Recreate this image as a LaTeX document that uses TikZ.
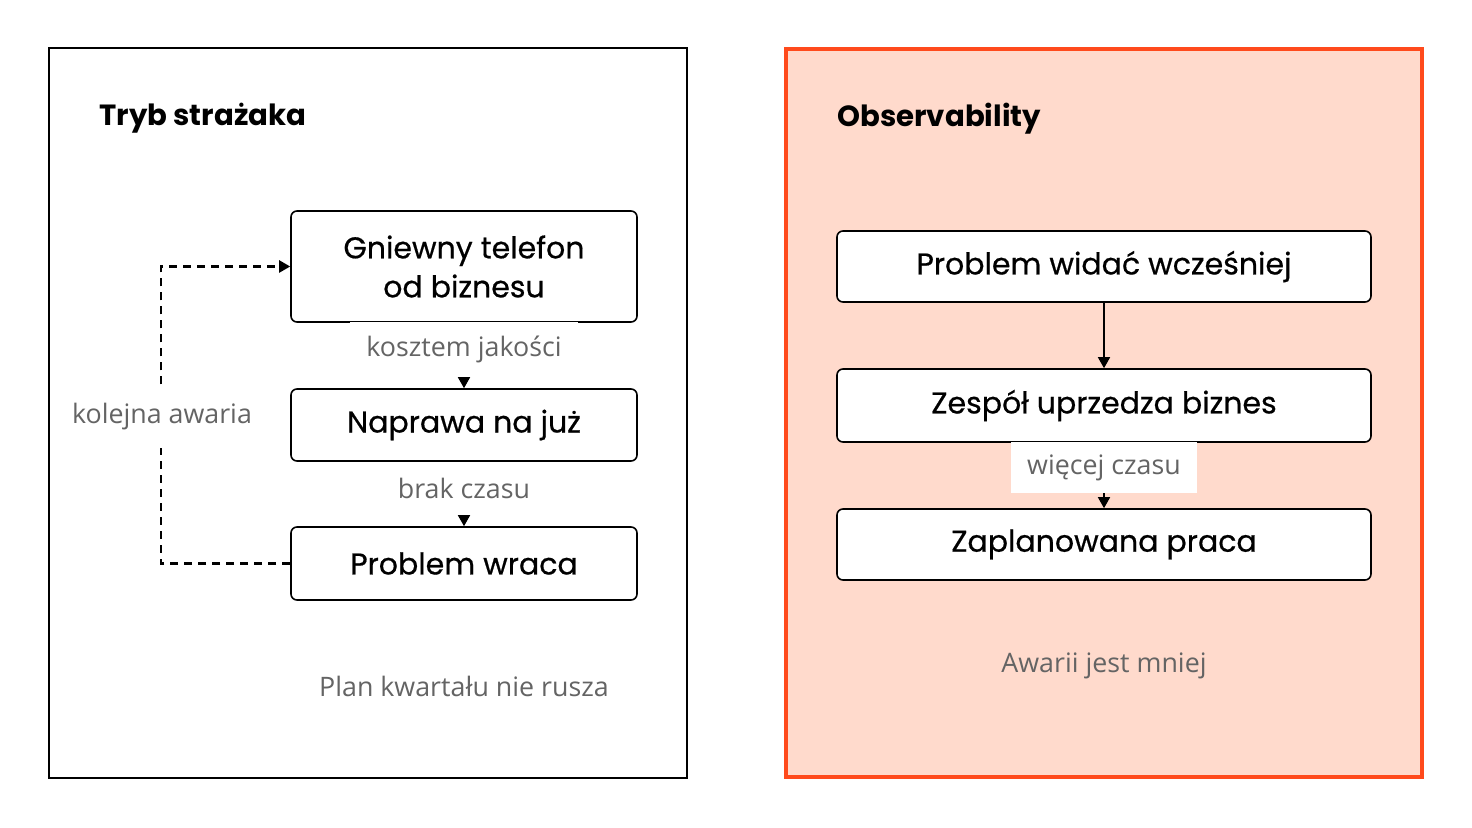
\documentclass[tikz,border=0pt]{standalone}
\usepackage{fontspec}
\setmainfont{Poppins}
\newfontfamily\medfont{Poppins}[FakeBold=0.6]
\newfontfamily\lblfont{Open Sans}
\usetikzlibrary{arrows.meta,calc}
\definecolor{gtxt}{RGB}{100,100,100}
\definecolor{peach}{RGB}{255,218,204}
\definecolor{orng}{RGB}{255,74,28}
\begin{document}
\begin{tikzpicture}[x=0.5pt,y=-0.5pt,
 box/.style={draw=black,line width=0.8pt,rounded corners=3pt,fill=white,minimum width=173pt,inner sep=0pt,font=\medfont\fontsize{15}{19.5}\selectfont,align=center},
 lbl/.style={fill=white,text=gtxt,font=\lblfont\fontsize{13.4}{16}\selectfont,inner xsep=8pt,inner ysep=0pt,minimum height=27pt},
 glab/.style={text=gtxt,font=\lblfont\fontsize{13.4}{16}\selectfont,inner sep=0pt},
 arr/.style={-{Triangle[width=6pt,length=5.5pt]},line width=0.8pt},
 ttl/.style={font=\bfseries\fontsize{14.6}{18}\selectfont,inner sep=0pt,anchor=base west}]
\useasboundingbox (0,0) rectangle (1472,828);
\fill[white] (0,0) rectangle (1472,828);
\draw[line width=0.8pt] (49,48) rectangle (687,778);
\draw[line width=1.6pt, draw=orng, fill=peach] (786,49) rectangle (1422,777);
% left panel
\node[ttl] (t1) at (99,126) {Tryb strażaka};
\node[box,minimum height=55.5pt] (g) at (464,266.5) {Gniewny telefon\\od biznesu};
\node[box,minimum height=36pt] (n) at (464,425) {Naprawa na już};
\node[box,minimum height=36.5pt] (w) at (464,563.5) {Problem wraca};
\draw[arr] (g.south) -- (n.north) node[lbl,pos=0.41,minimum height=27.5pt] (l1) {kosztem jakości};
\draw[arr] (n.south) -- (w.north) node[lbl,pos=0.417,minimum height=26.5pt] (l2) {brak czasu};
\draw[arr,line width=1.1pt,dash pattern=on 4pt off 3pt] (w.west) -- ++(-129,0) coordinate (c1) |- (g.west);
\node[lbl,minimum height=31pt] (l3) at (162,417) {kolejna awaria};
\node[glab] (f1) at (464,686) {Plan kwartału nie rusza};
% right panel
\node[ttl] (t2) at (837,127) {Observability};
\node[box,minimum width=267pt,minimum height=35.5pt] (p) at (1104,266.5) {Problem widać wcześniej};
\node[box,minimum width=267pt,minimum height=36.5pt] (z) at (1104,405.5) {Zespół uprzedza biznes};
\node[box,minimum width=267pt,minimum height=35.5pt] (q) at (1104,544.5) {Zaplanowana praca};
\draw[arr] (p.south) -- (z.north);
\draw[arr] (z.south) -- (q.north) node[lbl,pos=0.38,minimum height=25.5pt] (l4) {więcej czasu};
\node[glab] (f2) at (1104,666) {Awarii jest mniej};
\end{tikzpicture}
\end{document}
